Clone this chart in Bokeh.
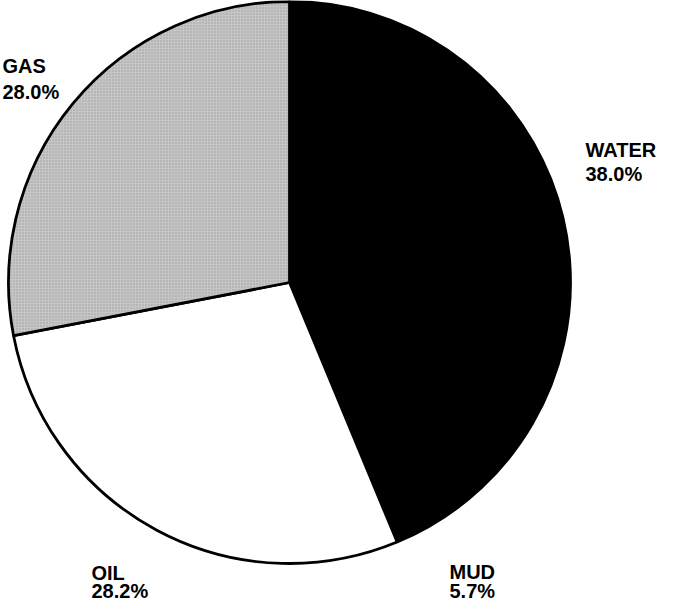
import math
from bokeh.plotting import figure
from bokeh.models import ColumnDataSource, Range1d
from bokeh.core.properties import value
from bokeh.embed import file_html
from bokeh.resources import INLINE

# ---- data ----
categories = ["WATER", "MUD", "OIL", "GAS"]
percents = [38.0, 5.7, 28.2, 28.0]

# ---- styles ----
fills = ["#000000", "#000000", "#ffffff", "#c6c6c6"]
hatches = [" ", " ", " ", "dot"]

# ---- layout (coordinates in the reference picture's pixels) ----
CX, CY, R = 297, 290, 281
label_pos = {
    "WATER": (593, 157, 24),
    "MUD": (457, 579, 19),
    "OIL": (99, 580, 18),
    "GAS": (10, 73, 26),
}

total = sum(percents)
starts, ends = [], []
cum = 0.0
for v in percents:
    a0 = math.pi / 2 - 2 * math.pi * cum / total
    cum += v
    a1 = math.pi / 2 - 2 * math.pi * cum / total
    starts.append(a1)
    ends.append(a0)

src = ColumnDataSource(dict(cat=categories, val=percents, start=starts, end=ends,
                            fill=fills, hatch=hatches))

# page has an 8px margin: canvas pixel = reference pixel - 8
p = figure(width=657, height=600, output_backend="svg", toolbar_location=None,
           x_range=Range1d(8, 665), y_range=Range1d(-608, -8),
           min_border=0, outline_line_color=None)
p.axis.visible = False
p.grid.visible = False
p.background_fill_color = "white"
p.border_fill_color = "white"

p.wedge(x=CX, y=-CY, radius=R, start_angle="start", end_angle="end",
        direction="anticlock", fill_color="fill", line_color="black", line_width=2.8,
        hatch_pattern="hatch", hatch_color="#7a7a7a", hatch_scale=3, hatch_alpha=0.55,
        source=src)

lx, ly, lt = [], [], []
for c, v in zip(categories, percents):
    x, y, gap = label_pos[c]
    lx += [x, x]
    ly += [-y, -(y + gap)]
    lt += [c, f"{v:.1f}%"]
lsrc = ColumnDataSource(dict(x=lx, y=ly, t=lt))
p.text(x="x", y="y", text="t", source=lsrc, text_font=value("Liberation Sans"),
       text_font_size="20px", text_font_style="bold", text_baseline="alphabetic",
       text_align="left", text_color="#000000")

open("out.html", "w").write(file_html(p, INLINE))
